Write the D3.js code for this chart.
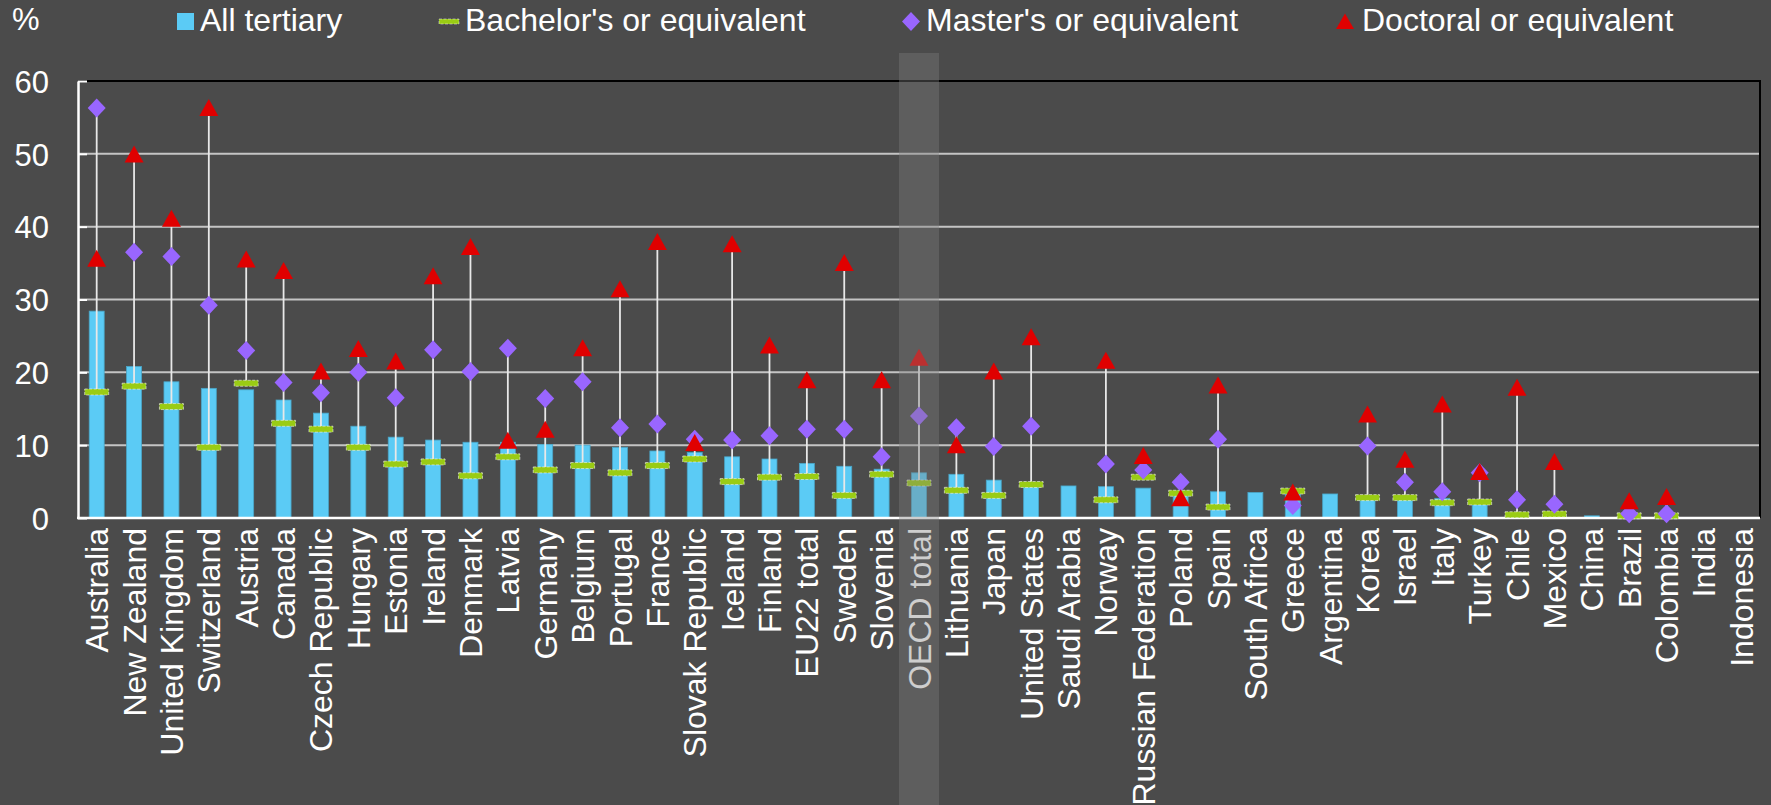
<!DOCTYPE html>
<html lang="en">
<head>
<meta charset="utf-8">
<title>Tertiary graduates by level</title>
<style>
body {
    margin: 0;
    background: #4b4b4b;
    font-family: "Liberation Sans", Arial, sans-serif;
}
svg { display: block; }
.yaxis text { fill: #fff; font-size: 31px; }
.yaxis line { stroke: #fff; stroke-width: 2; }
.yaxis path { stroke: #fff; stroke-width: 2.5; }
.xlab { fill: #fff; font-size: 32px; }
.legend text { fill: #fff; font-size: 32px; }
</style>
<script src="https://cdn.jsdelivr.net/npm/d3@7"></script>
</head>
<body>
<div id="chart"></div>
<script>
const countries = ["Australia", "New Zealand", "United Kingdom", "Switzerland", "Austria", "Canada",
    "Czech Republic", "Hungary", "Estonia", "Ireland", "Denmark", "Latvia", "Germany", "Belgium",
    "Portugal", "France", "Slovak Republic", "Iceland", "Finland", "EU22 total", "Sweden", "Slovenia",
    "OECD total", "Lithuania", "Japan", "United States", "Saudi Arabia", "Norway", "Russian Federation",
    "Poland", "Spain", "South Africa", "Greece", "Argentina", "Korea", "Israel", "Italy", "Turkey",
    "Chile", "Mexico", "China", "Brazil", "Colombia", "India", "Indonesia"];

const allTertiary = [28.4, 20.8, 18.7, 17.8, 17.6, 16.2, 14.4, 12.6, 11.1, 10.7, 10.4, 10.4, 10.1, 10.0,
    9.7, 9.2, 9.0, 8.4, 8.1, 7.5, 7.1, 6.7, 6.2, 6.0, 5.2, 4.9, 4.4, 4.3, 4.1,
    3.7, 3.6, 3.5, 3.4, 3.3, 2.8, 2.7, 2.7, 2.2, 0.7, 0.6, 0.3, 0.3, 0.2, null, null];

const bachelor = [17.3, 18.1, 15.3, 9.7, 18.5, 13.0, 12.2, 9.7, 7.4, 7.7, 5.8, 8.4, 6.6, 7.2,
    6.2, 7.2, 8.1, 5.0, 5.6, 5.7, 3.1, 6.0, 4.8, 3.8, 3.1, 4.6, null, 2.5, 5.6,
    3.4, 1.5, null, 3.7, null, 2.8, 2.8, 2.1, 2.2, 0.45, 0.55, null, 0.3, 0.3, null, null];

const master = [56.3, 36.5, 35.9, 29.2, 23.0, 18.6, 17.2, 20.0, 16.5, 23.1, 20.1, 23.3, 16.4, 18.7,
    12.4, 12.9, 10.8, 10.7, 11.3, 12.2, 12.2, 8.4, 14.0, 12.4, 9.8, 12.6, null, 7.4, 6.6,
    4.9, 10.8, null, 1.7, null, 9.9, 4.9, 3.6, 6.2, 2.5, 1.9, null, 0.6, 0.6, null, null];

const doctoral = [35.6, 49.9, 41.1, 56.3, 35.5, 33.9, 20.1, 23.2, 21.5, 33.2, 37.2, 10.6, 12.1, 23.3,
    31.4, 37.9, 10.3, 37.6, 23.7, 18.9, 35.0, 18.9, 22.0, 10.0, 20.1, 24.8, null, 21.6, 8.5,
    2.7, 18.2, null, 3.5, null, 14.2, 8.0, 15.6, 6.3, 17.9, 7.7, null, 2.3, 2.9, null, null];

const yTicks = [0, 10, 20, 30, 40, 50, 60];
const legendLabels = ["All tertiary", "Bachelor's or equivalent", "Master's or equivalent", "Doctoral or equivalent"];
const highlight = "OECD total";

const width = 1771, height = 805;
const plot = {left: 78, right: 1760, top: 81, bottom: 518};

const colBar = "#5bcbf5", colBach = "#9acc14", colMaster = "#9966ff", colDoc = "#e00000";

const svg = d3.select("#chart").append("svg")
    .attr("width", width)
    .attr("height", height);

const x = d3.scaleBand().domain(countries).range([plot.left, plot.right]);
const y = d3.scaleLinear().domain([0, 60]).range([plot.bottom, plot.top]);
const cx = d => x(d) + x.bandwidth() / 2;
const barW = x.bandwidth() * 0.4;

// gridlines
svg.append("g").selectAll("line")
    .data(yTicks.filter(t => t > 0 && t < 60))
    .enter().append("line")
    .attr("x1", plot.left).attr("x2", plot.right)
    .attr("y1", d => y(d)).attr("y2", d => y(d))
    .attr("stroke", "#c4c4c4").attr("stroke-width", 2);

// plot border top + right
svg.append("path")
    .attr("d", `M${plot.left},${y(60)}H${plot.right}V${plot.bottom}`)
    .attr("fill", "none").attr("stroke", "#000").attr("stroke-width", 2);

// bars
svg.append("g").selectAll("rect")
    .data(countries.map((c, i) => ({c, v: allTertiary[i]})).filter(d => d.v != null))
    .enter().append("rect")
    .attr("x", d => cx(d.c) - barW / 2)
    .attr("width", barW)
    .attr("y", d => y(d.v))
    .attr("height", d => y(0) - y(d.v))
    .attr("fill", colBar)
    .attr("stroke", "#4aa6c8").attr("stroke-width", 0.8);

// connecting lines
const rows = countries.map((c, i) => ({c, b: bachelor[i], m: master[i], d: doctoral[i]}));
svg.append("g").selectAll("line")
    .data(rows.filter(r => [r.b, r.m, r.d].filter(v => v != null).length > 1))
    .enter().append("line")
    .attr("x1", r => cx(r.c)).attr("x2", r => cx(r.c))
    .attr("y1", r => y(d3.min([r.b, r.m, r.d].filter(v => v != null))))
    .attr("y2", r => y(d3.max([r.b, r.m, r.d])))
    .attr("stroke", "#e8e8e8").attr("stroke-width", 1.8);

// axes
const yAxis = svg.append("g")
    .attr("class", "yaxis")
    .attr("transform", `translate(${plot.left},0)`)
    .call(d3.axisLeft(y).tickValues(yTicks).tickSize(-9).tickPadding(29).tickSizeOuter(0));
yAxis.selectAll("text").attr("dy", "0.36em");

svg.append("line")
    .attr("x1", plot.left - 1).attr("x2", plot.right)
    .attr("y1", y(0)).attr("y2", y(0))
    .attr("stroke", "#fff").attr("stroke-width", 2.5);

// markers
const diamond = "M0,-9.5L9,0L0,9.5L-9,0Z";
const triangle = "M0,-9L9.5,8L-9.5,8Z";

svg.append("g").selectAll("rect")
    .data(rows.filter(r => r.b != null))
    .enter().append("rect")
    .attr("x", r => cx(r.c) - 12).attr("width", 24)
    .attr("y", r => y(r.b) - 3).attr("height", 6)
    .attr("fill", colBach)
    .attr("stroke", "#f2f2f2").attr("stroke-width", 0.6).attr("stroke-dasharray", "3,1.5");

svg.append("g").selectAll("path")
    .data(rows.filter(r => r.m != null))
    .enter().append("path")
    .attr("d", diamond)
    .attr("transform", r => `translate(${cx(r.c)},${y(r.m)})`)
    .attr("fill", colMaster);

svg.append("g").selectAll("path")
    .data(rows.filter(r => r.d != null))
    .enter().append("path")
    .attr("d", triangle)
    .attr("transform", r => `translate(${cx(r.c)},${y(r.d)})`)
    .attr("fill", colDoc);

// category labels
svg.append("g").selectAll("text")
    .data(countries)
    .enter().append("text")
    .attr("class", "xlab")
    .attr("transform", d => `translate(${cx(d)},${plot.bottom + 10}) rotate(-90)`)
    .attr("text-anchor", "end")
    .attr("dy", "0.36em")
    .text(d => d);

// unit
svg.append("text")
    .attr("x", 12).attr("y", 30)
    .attr("fill", "#fff").attr("font-size", 31)
    .text("%");

// legend
const legendX = [177, 439, 902, 1336];
const leg = svg.append("g").attr("class", "legend");
legendLabels.forEach((lab, i) => {
    const g = leg.append("g").attr("transform", `translate(${legendX[i]},21.5)`);
    if (i === 0) {
        g.append("rect").attr("x", 0).attr("y", -8.5).attr("width", 17).attr("height", 17).attr("fill", colBar);
    } else if (i === 1) {
        g.append("rect").attr("x", 0).attr("y", -2.5).attr("width", 20).attr("height", 5)
            .attr("fill", colBach).attr("stroke", "#f2f2f2").attr("stroke-width", 0.5).attr("stroke-dasharray", "3,1.5");
    } else if (i === 2) {
        g.append("path").attr("d", diamond).attr("transform", "translate(9,0)").attr("fill", colMaster);
    } else {
        g.append("path").attr("d", "M0,-8L9,7.5L-9,7.5Z").attr("transform", "translate(9,0)").attr("fill", colDoc);
    }
    g.append("text")
        .attr("x", [23, 26, 24, 26][i])
        .attr("y", 9.2)
        .text(lab);
});

// highlight band for OECD total, drawn over everything
svg.append("rect")
    .attr("x", x(highlight) + (x.bandwidth() - 40) / 2)
    .attr("width", 40)
    .attr("y", 53)
    .attr("height", height - 53)
    .attr("fill", "#7d7d7d")
    .attr("opacity", 0.38);
</script>
</body>
</html>
